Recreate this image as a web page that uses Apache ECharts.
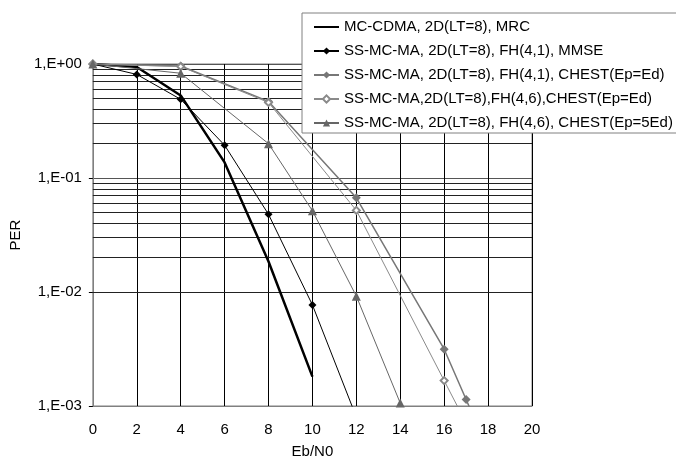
<!DOCTYPE html>
<html>
<head>
<meta charset="utf-8">
<script src="https://cdn.jsdelivr.net/npm/echarts@6/dist/echarts.min.js"></script>
<style>
html,body{margin:0;padding:0;background:#fff;}
#chart{width:676px;height:464px;}
</style>
</head>
<body>
<div id="chart"></div>
<script>
// ---- data ----
var seriesNames = [
  'MC-CDMA, 2D(LT=8), MRC',
  'SS-MC-MA, 2D(LT=8), FH(4,1), MMSE',
  'SS-MC-MA, 2D(LT=8), FH(4,1), CHEST(Ep=Ed)',
  'SS-MC-MA,2D(LT=8),FH(4,6),CHEST(Ep=Ed)',
  'SS-MC-MA, 2D(LT=8), FH(4,6), CHEST(Ep=5Ed)'
];
var x1 = [0, 2, 4, 6, 8, 10];
var y1 = [1.0, 0.94, 0.53, 0.137, 0.0185, 0.00181];
var x2 = [0, 2, 4, 6, 8, 10, 12];
var y2 = [1.0, 0.81, 0.49, 0.194, 0.048, 0.0077, 0.0008];
var x3 = [0, 4, 8, 12, 16, 17, 18];
var y3 = [1.0, 0.96, 0.47, 0.067, 0.00315, 0.00114, 0.00041];
var x4 = [0, 4, 8, 12, 16, 18];
var y4 = [1.0, 0.95, 0.46, 0.052, 0.00167, 0.0003];
var x5 = [0, 4, 8, 10, 12, 14, 16];
var y5 = [1.0, 0.83, 0.2, 0.0516, 0.0092, 0.00106, 0.00012];
var xTicks = [0, 2, 4, 6, 8, 10, 12, 14, 16, 18, 20];
var yTickValues = [0.001, 0.01, 0.1, 1];
var yTickLabels = ['1,E-03', '1,E-02', '1,E-01', '1,E+00'];
var minorMultipliers = [2, 3, 4, 5, 6, 7, 8, 9];
var decades = [0.001, 0.01, 0.1];

function pairs(xs, ys) { return xs.map(function (x, i) { return [x, ys[i]]; }); }
var minorLines = [];
decades.forEach(function (d) {
  minorMultipliers.forEach(function (m) { minorLines.push({ yAxis: +(d * m).toPrecision(3) }); });
});

var FONT = 'Liberation Sans, Arial, sans-serif';
var FS = 15;
var chart = echarts.init(document.getElementById('chart'), null, { renderer: 'canvas' });
chart.setOption({
  animation: false,
  backgroundColor: '#fff',
  textStyle: { fontFamily: FONT },
  grid: { left: 91, right: 144, top: 64, bottom: 55, show: true, borderColor: '#808080', borderWidth: 1, backgroundColor: 'transparent' },
  legend: {
    orient: 'vertical',
    left: 302, top: 13,
    backgroundColor: '#fff',
    borderColor: '#808080',
    borderWidth: 1,
    padding: [6, 5, 2, 11],
    itemWidth: 25, itemHeight: 9, itemGap: 8,
    textStyle: { fontFamily: FONT, fontSize: FS, color: '#000', lineHeight: 16 },
    data: seriesNames
  },
  xAxis: {
    type: 'value', min: 0, max: 20, interval: 2,
    name: 'Eb/N0', nameLocation: 'middle', nameGap: 38,
    nameTextStyle: { fontFamily: FONT, fontSize: FS, color: '#000' },
    axisLine: { show: true, lineStyle: { color: '#808080', width: 1 } },
    axisTick: { show: false },
    axisLabel: { margin: 16, fontFamily: FONT, fontSize: FS, color: '#000',
      formatter: function (v) { return xTicks.indexOf(v) >= 0 ? String(v) : ''; } },
    splitLine: { show: true, lineStyle: { color: '#000', width: 1 } }
  },
  yAxis: {
    type: 'log', logBase: 10, min: 0.001, max: 1,
    name: 'PER', nameLocation: 'middle', nameGap: 67, nameRotate: 90,
    nameTextStyle: { fontFamily: FONT, fontSize: FS, color: '#000' },
    axisLine: { show: true, lineStyle: { color: '#808080', width: 1 } },
    axisTick: { show: true, length: 4, lineStyle: { color: '#000' } },
    axisLabel: { margin: 11, fontFamily: FONT, fontSize: FS, color: '#000',
      formatter: function (v) {
        for (var i = 0; i < yTickValues.length; i++) {
          if (Math.abs(Math.log10(v) - Math.log10(yTickValues[i])) < 1e-6) return yTickLabels[i];
        }
        return '';
      } },
    splitLine: { show: true, lineStyle: { color: '#555', width: 1 } }
  },
  series: [
    {
      name: seriesNames[0], type: 'line', data: pairs(x1, y1),
      symbol: 'circle', showSymbol: false, symbolSize: 0,
      lineStyle: { color: '#000', width: 2.5 }, itemStyle: { color: 'rgba(0,0,0,0)', borderWidth: 0 }, z: 5,
      markLine: {
        silent: true, symbol: ['none', 'none'], label: { show: false },
        lineStyle: { color: '#222', width: 1, type: 'solid' },
        emphasis: { disabled: true },
        data: minorLines, z: 1
      }
    },
    {
      name: seriesNames[1], type: 'line', data: pairs(x2, y2),
      symbol: 'diamond', symbolSize: 8, showAllSymbol: true,
      lineStyle: { color: '#000', width: 1 }, itemStyle: { color: '#000' }, z: 6
    },
    {
      name: seriesNames[2], type: 'line', data: pairs(x3, y3),
      symbol: 'diamond', symbolSize: 9, showAllSymbol: true,
      lineStyle: { color: '#777', width: 1.5 }, itemStyle: { color: '#777' }, z: 6
    },
    {
      name: seriesNames[3], type: 'line', data: pairs(x4, y4),
      symbol: 'emptyDiamond', symbolSize: 7, showAllSymbol: true,
      lineStyle: { color: '#8a8a8a', width: 1 }, itemStyle: { color: '#8a8a8a', borderWidth: 1 }, z: 6
    },
    {
      name: seriesNames[4], type: 'line', data: pairs(x5, y5),
      symbol: 'triangle', symbolSize: 9, showAllSymbol: true,
      lineStyle: { color: '#666', width: 1 }, itemStyle: { color: '#666' }, z: 6
    }
  ]
});
</script>
</body>
</html>
